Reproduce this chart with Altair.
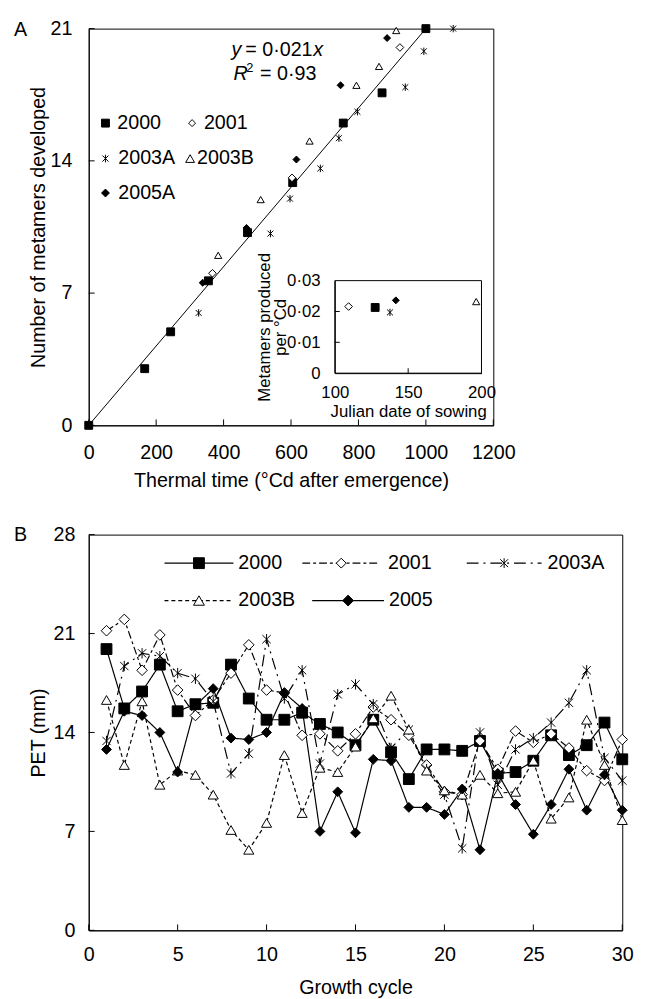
import altair as alt
import pandas as pd

FONT = "Liberation Sans"
STAR = "M-0.8,-0.8L0.8,0.8M-0.8,0.8L0.8,-0.8M0,-1L0,1"

# ---------------- Panel A data ----------------
series_a = ["2000", "2001", "2003A", "2003B", "2005A"]
tt_2000 = [0, 166, 243, 355, 471, 605, 755, 870, 1000]
met_2000 = [0, 3.0, 4.95, 7.65, 10.2, 12.85, 16.0, 17.6, 21.0]
tt_2001 = [367, 603, 923]
met_2001 = [8.05, 13.1, 20.0]
tt_2003a = [326, 539, 597, 687, 742, 797, 939, 994, 1081]
met_2003a = [5.95, 10.15, 12.0, 13.6, 15.2, 16.6, 17.9, 19.8, 21.0]
tt_2003b = [384, 510, 655, 794, 861, 912]
met_2003b = [9.0, 11.95, 15.05, 18.0, 19.0, 20.9]
tt_2005a = [338, 468, 616, 747, 885]
met_2005a = [7.55, 10.45, 14.07, 18.0, 20.5]
fit_slope = 0.021
fit_tt = [0, 1000]
x_ticks_a = [0, 200, 400, 600, 800, 1000, 1200]
y_ticks_a = [0, 7, 14, 21]

# inset
sow_day = [127.5, 109.4, 137.6, 196.4, 141.6]
met_rate = [0.0213, 0.0216, 0.0197, 0.0232, 0.0236]
inset_x_ticks = [100, 150, 200]
inset_y_ticks = [0, 0.01, 0.02, 0.03]

# ---------------- Panel B data ----------------
series_b = ["2000", "2001", "2003A", "2003B", "2005"]
cycle = list(range(1, 31))
pet_2000 = [19.9, 15.7, 16.9, 18.8, 15.5, 16.0, 16.1, 18.8, 16.4, 14.9,
            14.9, 15.4, 14.6, 14.0, 13.1, 14.9, 12.6, 10.7, 12.8, 12.8,
            12.7, 13.4, 11.1, 11.2, 12.0, 13.8, 12.4, 13.1, 14.7, 12.1]
pet_2001 = [21.2, 22.0, 18.4, 20.9, 17.0, 15.2, 16.3, 18.2, 20.2, 17.0,
            16.8, 13.8, 13.9, 12.7, 13.9, 15.8, 14.9, 13.8, 11.7, 9.8,
            9.6, 13.4, 11.4, 14.1, 13.3, 13.9, 12.9, 11.3, 10.6, 13.5]
pet_2003a = [13.4, 18.7, 19.6, 19.4, 18.2, 17.8, 16.2, 11.1, 12.5, 20.6,
             16.4, 18.4, 11.8, 16.7, 17.4, 16.0, 12.9, 14.2, 11.4, 9.6,
             5.8, 14.0, 10.3, 12.8, 13.6, 14.7, 16.1, 18.4, 12.2, 10.6]
pet_2003b = [16.3, 11.7, 16.2, 10.3, 11.3, 11.0, 9.6, 7.1, 5.7, 7.6,
             12.4, 8.3, 11.5, 11.2, 13.0, 15.0, 16.6, 14.2, 11.3, 9.9,
             9.6, 11.0, 9.7, 9.8, 12.0, 7.9, 9.4, 14.9, 11.7, 7.8]
pet_2005 = [12.8, 15.5, 15.2, 14.0, 11.2, 15.9, 17.1, 13.6, 13.5, 14.0,
            16.8, 15.7, 7.0, 9.8, 6.9, 12.1, 12.0, 8.7, 8.7, 8.2,
            10.0, 5.7, 11.1, 8.9, 6.8, 8.9, 11.4, 8.5, 11.0, 8.5]
x_ticks_b = [0, 5, 10, 15, 20, 25, 30]
y_ticks_b = [0, 7, 14, 21, 28]

# ---------------- styles ----------------
STYLE_A = {
    "2000": dict(shape="square", fill="black", size=64),
    "2001": dict(shape="diamond", fill="white", size=50),
    "2003A": dict(shape=STAR, fill="white", size=60),
    "2003B": dict(shape="triangle-up", fill="white", size=81),
    "2005A": dict(shape="diamond", fill="black", size=64),
}
STYLE_B = {
    "2000": dict(shape="square", fill="black", size=121, dash=[1, 0]),
    "2001": dict(shape="diamond", fill="white", size=100, dash=[8, 3, 3, 3]),
    "2003A": dict(shape=STAR, fill="white", size=100, dash=[12, 5, 2, 5]),
    "2003B": dict(shape="triangle-up", fill="white", size=121, dash=[4, 3]),
    "2005": dict(shape="diamond", fill="black", size=121, dash=[1, 0]),
}

W_A, H_A = 411, 403
W_B, H_B = 542, 402
one = pd.DataFrame({"k": [0]})


def txt(text, x, y, size=20, italic=False, align="left", baseline="middle"):
    return alt.Chart(one).mark_text(
        text=text, align=align, baseline=baseline, fontSize=size, font=FONT,
        fontStyle="italic" if italic else "normal", color="black"
    ).encode(x=alt.value(x), y=alt.value(y))


def marker(style, x, y):
    return alt.Chart(one).mark_point(
        filled=True, stroke="black", strokeWidth=1, opacity=1, fillOpacity=1
    ).encode(x=alt.value(x), y=alt.value(y), shape=alt.value(style["shape"]),
             fill=alt.value(style["fill"]), size=alt.value(style["size"]))


# ================= Panel A =================
rows = []
for name, xs, ys in zip(series_a, [tt_2000, tt_2001, tt_2003a, tt_2003b, tt_2005a],
                        [met_2000, met_2001, met_2003a, met_2003b, met_2005a]):
    for xv, yv in zip(xs, ys):
        rows.append({"series": name, "tt": xv, "met": yv})
df_a = pd.DataFrame(rows)

xs_a = alt.Scale(domain=[0, 1200], nice=False, zero=False)
ys_a = alt.Scale(domain=[0, 21], nice=False)
shape_a = alt.Scale(domain=series_a, range=[STYLE_A[s]["shape"] for s in series_a])
fill_a = alt.Scale(domain=series_a, range=[STYLE_A[s]["fill"] for s in series_a])
size_a = alt.Scale(domain=series_a, range=[STYLE_A[s]["size"] for s in series_a])

x_axis_a = alt.Axis(values=x_ticks_a, format="d", labelOverlap=False, labelFlush=False,
                    title="Thermal time (°Cd after emergence)",
                    labelPadding=18, titlePadding=8)
y_axis_a = alt.Axis(values=y_ticks_a, labelOverlap=False, labelFlush=False,
                    title="Number of metamers developed",
                    labelPadding=17, titlePadding=2)

fit = alt.Chart(pd.DataFrame({"tt": fit_tt})).transform_calculate(
    met=f"{fit_slope} * datum.tt"
).mark_line(color="black", strokeWidth=1).encode(
    x=alt.X("tt:Q", scale=xs_a, axis=x_axis_a),
    y=alt.Y("met:Q", scale=ys_a, axis=y_axis_a),
)

pts_a = alt.Chart(df_a).mark_point(
    filled=True, stroke="black", strokeWidth=1, opacity=1, fillOpacity=1
).encode(
    x=alt.X("tt:Q", scale=xs_a, axis=x_axis_a),
    y=alt.Y("met:Q", scale=ys_a, axis=y_axis_a),
    shape=alt.Shape("series:N", scale=shape_a, legend=None),
    fill=alt.Fill("series:N", scale=fill_a, legend=None),
    size=alt.Size("series:N", scale=size_a, legend=None),
)

tick_x_a = alt.Chart(pd.DataFrame({"tt": x_ticks_a})).mark_rule(color="black").encode(
    x=alt.X("tt:Q", scale=xs_a, axis=x_axis_a), y=alt.value(H_A), y2=alt.value(H_A - 6))
tick_y_a = alt.Chart(pd.DataFrame({"met": y_ticks_a})).mark_rule(color="black").encode(
    y=alt.Y("met:Q", scale=ys_a, axis=y_axis_a), x=alt.value(0), x2=alt.value(6))

legend_a_layout = [("2000", 17, 96, 29), ("2001", 105, 96, 117),
                   ("2003A", 17, 132, 30), ("2003B", 103, 132, 110),
                   ("2005A", 17, 167, 30)]
legend_a = []
for name, mx, my, tx in legend_a_layout:
    legend_a.append(marker(STYLE_A[name], mx, my))
    legend_a.append(txt(name, tx, my))

eq = [
    txt("y", 145, 22, italic=True),
    txt("= 0·021", 159, 22),
    txt("x", 228, 22, italic=True),
    txt("R", 147, 46, italic=True),
    txt("2", 160, 40, size=13),
    txt("= 0·93", 174, 46),
]

label_a = txt("A", -76, 1)

main_a = alt.layer(fit, pts_a, tick_x_a, tick_y_a, *legend_a, *eq, label_a)

# inset
df_in = pd.DataFrame({"series": series_a, "sow": sow_day, "rate": met_rate})
IN_X0, IN_X1, IN_Y0, IN_Y1 = 250, 399, 350, 256
xs_in = alt.Scale(domain=[inset_x_ticks[0], inset_x_ticks[-1]], range=[IN_X0, IN_X1], nice=False, zero=False)
ys_in = alt.Scale(domain=[inset_y_ticks[0], inset_y_ticks[-1]], range=[IN_Y0, IN_Y1], nice=False)

in_x_axis = alt.Axis(orient="bottom", offset=-(H_A - IN_Y0), values=inset_x_ticks,
                     labelOverlap=False, labelFlush=False, title="Julian date of sowing",
                     labelFontSize=17, titleFontSize=17,
                     labelPadding=12, titlePadding=3)
in_y_axis = alt.Axis(orient="left", offset=-IN_X0, values=inset_y_ticks, labelOverlap=False,
                     labelFlush=False,
                     labelExpr="datum.value == 0 ? '0' : replace(format(datum.value, '.2f'), '.', '·')",
                     title=["Metamers produced", "per °Cd"], labelFontSize=17, titleFontSize=17,
                     titleLineHeight=16, labelPadding=15, titlePadding=-3)

in_frame = alt.Chart(pd.DataFrame({"sow": [inset_x_ticks[0]], "sow2": [inset_x_ticks[-1]],
                                   "rate": [inset_y_ticks[0]], "rate2": [inset_y_ticks[-1]]})
                     ).mark_rect(fillOpacity=0, stroke="black", strokeWidth=1).encode(
    x=alt.X("sow:Q", scale=xs_in, axis=in_x_axis),
    x2="sow2:Q",
    y=alt.Y("rate:Q", scale=ys_in, axis=in_y_axis),
    y2="rate2:Q",
)
in_pts = alt.Chart(df_in).mark_point(
    filled=True, stroke="black", strokeWidth=1, opacity=1, fillOpacity=1
).encode(
    x=alt.X("sow:Q", scale=xs_in, axis=in_x_axis),
    y=alt.Y("rate:Q", scale=ys_in, axis=in_y_axis),
    shape=alt.Shape("series:N", scale=shape_a, legend=None),
    fill=alt.Fill("series:N", scale=fill_a, legend=None),
    size=alt.Size("series:N", scale=size_a, legend=None),
)
in_tx = alt.Chart(pd.DataFrame({"sow": inset_x_ticks[1:-1]})).mark_rule(color="black").encode(
    x=alt.X("sow:Q", scale=xs_in, axis=in_x_axis), y=alt.value(IN_Y0), y2=alt.value(IN_Y0 - 5))
in_ty = alt.Chart(pd.DataFrame({"rate": inset_y_ticks[1:-1]})).mark_rule(color="black").encode(
    y=alt.Y("rate:Q", scale=ys_in, axis=in_y_axis), x=alt.value(IN_X0), x2=alt.value(IN_X0 + 5))

inset = alt.layer(in_frame, in_pts, in_tx, in_ty)

panel_a = alt.layer(main_a, inset).resolve_scale(
    x="independent", y="independent"
).properties(width=W_A, height=H_A)

# ================= Panel B =================
rows = []
for name, vals in zip(series_b, [pet_2000, pet_2001, pet_2003a, pet_2003b, pet_2005]):
    for c, v in zip(cycle, vals):
        rows.append({"series": name, "cycle": c, "pet": v})
df_b = pd.DataFrame(rows)

xs_b = alt.Scale(domain=[0, 30], nice=False, zero=False)
ys_b = alt.Scale(domain=[0, 28], nice=False)
shape_b = alt.Scale(domain=series_b, range=[STYLE_B[s]["shape"] for s in series_b])
fill_b = alt.Scale(domain=series_b, range=[STYLE_B[s]["fill"] for s in series_b])
size_b = alt.Scale(domain=series_b, range=[STYLE_B[s]["size"] for s in series_b])
dash_b = alt.Scale(domain=series_b, range=[STYLE_B[s]["dash"] for s in series_b])

x_axis_b = alt.Axis(values=x_ticks_b, labelOverlap=False, labelFlush=False, title="Growth cycle",
                    labelPadding=15, titlePadding=13)
y_axis_b = alt.Axis(values=y_ticks_b, labelOverlap=False, labelFlush=False, title="PET (mm)",
                    labelPadding=14, titlePadding=5)

lines_b = alt.Chart(df_b).mark_line(color="black", strokeWidth=1.2).encode(
    x=alt.X("cycle:Q", scale=xs_b, axis=x_axis_b),
    y=alt.Y("pet:Q", scale=ys_b, axis=y_axis_b),
    strokeDash=alt.StrokeDash("series:N", scale=dash_b, legend=None),
    detail="series:N",
)
pts_b = alt.Chart(df_b).mark_point(
    filled=True, stroke="black", strokeWidth=1, opacity=1, fillOpacity=1
).encode(
    x=alt.X("cycle:Q", scale=xs_b, axis=x_axis_b),
    y=alt.Y("pet:Q", scale=ys_b, axis=y_axis_b),
    shape=alt.Shape("series:N", scale=shape_b, legend=None),
    fill=alt.Fill("series:N", scale=fill_b, legend=None),
    size=alt.Size("series:N", scale=size_b, legend=None),
)
tick_x_b = alt.Chart(pd.DataFrame({"cycle": x_ticks_b})).mark_rule(color="black").encode(
    x=alt.X("cycle:Q", scale=xs_b, axis=x_axis_b), y=alt.value(H_B), y2=alt.value(H_B - 6))
tick_y_b = alt.Chart(pd.DataFrame({"pet": y_ticks_b})).mark_rule(color="black").encode(
    y=alt.Y("pet:Q", scale=ys_b, axis=y_axis_b), x=alt.value(0), x2=alt.value(6))

# legend: (series, line start, line end, row y, text x)
legend_b_layout = [("2000", 77, 147, 29, 152), ("2001", 217, 296, 29, 304),
                   ("2003A", 384, 460, 29, 466), ("2003B", 77, 147, 67, 152),
                   ("2005", 227, 300, 67, 305)]
legend_b = []
for name, x1, x2, ly, tx in legend_b_layout:
    st = STYLE_B[name]
    legend_b.append(alt.Chart(one).mark_rule(color="black", strokeWidth=1.2, strokeDash=st["dash"]).encode(
        x=alt.value(x1), x2=alt.value(x2), y=alt.value(ly)))
    legend_b.append(marker(st, (x1 + x2) / 2, ly))
    legend_b.append(txt(name, tx, ly))

label_b = txt("B", -76, 1)

panel_b = alt.layer(lines_b, pts_b, tick_x_b, tick_y_b, *legend_b, label_b).properties(
    width=W_B, height=H_B)

chart = alt.vconcat(panel_a, panel_b, spacing=111, bounds="flush").resolve_scale(
    shape="independent", fill="independent", size="independent", strokeDash="independent"
).properties(
    padding={"left": 5, "top": 2, "right": 5, "bottom": 5}
).configure(font=FONT).configure_view(
    stroke="black", strokeWidth=1
).configure_axis(
    labelFont=FONT, titleFont=FONT, labelFontSize=20, titleFontSize=20,
    titleFontWeight="normal", labelColor="black", titleColor="black",
    domainColor="black", domainWidth=1, ticks=False, tickSize=0, grid=False,
    labelFlush=False,
)

chart.save("out.html", embed_options={"renderer": "svg", "actions": False})
